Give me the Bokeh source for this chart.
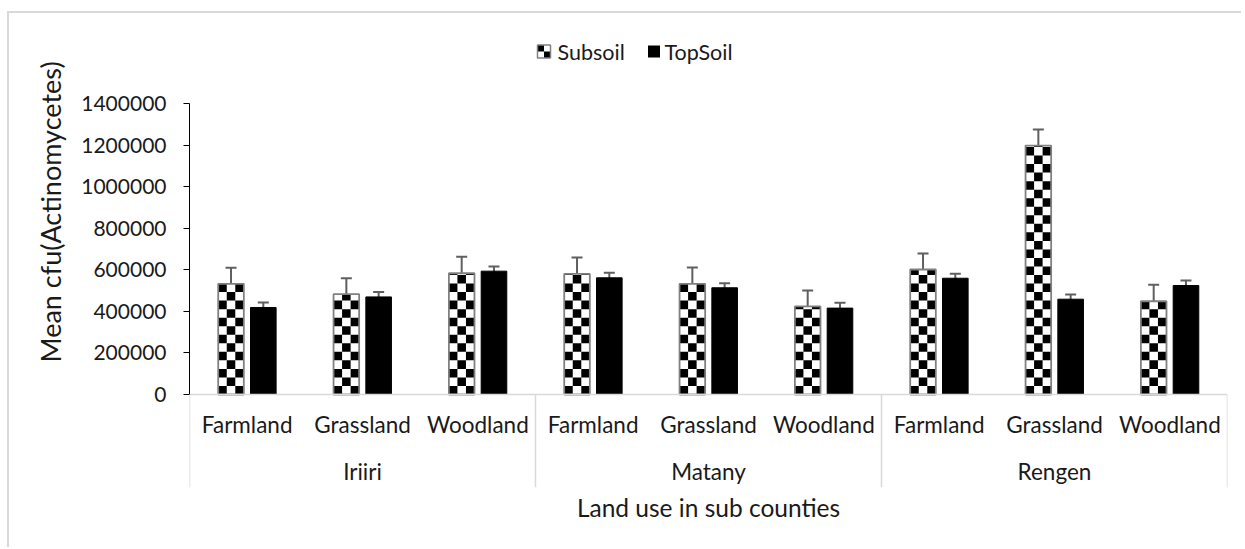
from bokeh.core.properties import value
from bokeh.embed import file_html
from bokeh.models import (BasicTickFormatter, ColumnDataSource, FactorRange, FixedTicker,
                          Span, TeeHead, Title, Whisker)
from bokeh.plotting import figure
from bokeh.resources import INLINE
from bokeh.transform import dodge

# ---- data -------------------------------------------------------------
counties = ["Iriiri", "Matany", "Rengen"]
land_uses = ["Farmland", "Grassland", "Woodland"]
series = ["Subsoil", "TopSoil"]

subsoil_mean = [533000, 483000, 584000, 581000, 533000, 424000, 602000, 1199000, 449000]
subsoil_err = [77000, 77000, 79000, 79000, 79000, 77000, 77000, 77000, 80000]
topsoil_mean = [419000, 470000, 594000, 562000, 514000, 416000, 560000, 459000, 525000]
topsoil_err = [24000, 24000, 23000, 24000, 22000, 26000, 22000, 22000, 24000]

y_ticks = [0, 200000, 400000, 600000, 800000, 1000000, 1200000, 1400000]

FONT = "Lato"
TEXT = "#1a1a1a"
ERR = "#5f5f5f"
EDGE = "#808080"
FRAME_GREY = "#d9d9d9"

# ---- geometry of the plotting frame (pixels) ----
W, H = 1245, 549
OFF_X, OFF_Y = 9, 13                 # chart-area border offset
SPARE_R = 2                          # keep the canvas inside the window
FRAME_L, FRAME_R = 189, 1227
FRAME_T, FRAME_B = 30, 487
AXIS_Y0 = 394                        # pixel row of y = 0
PX_PER_UNIT = (AXIS_Y0 - 103.3) / 1400000
y_bottom = -(FRAME_B - AXIS_Y0) / PX_PER_UNIT
y_top = (AXIS_Y0 - FRAME_T) / PX_PER_UNIT

factors = [(c, u) for c in counties for u in land_uses]
n_cat = len(factors)
CAT_PX = (FRAME_R - FRAME_L) / n_cat

dx = 0.14          # bar offset from the category centre
bw = 0.222         # bar width (category units)

src = ColumnDataSource(dict(
    x=factors,
    sub=subsoil_mean,
    sub_lo=[m - e for m, e in zip(subsoil_mean, subsoil_err)],
    sub_hi=[m + e for m, e in zip(subsoil_mean, subsoil_err)],
    top=topsoil_mean,
    top_lo=[m - e for m, e in zip(topsoil_mean, topsoil_err)],
    top_hi=[m + e for m, e in zip(topsoil_mean, topsoil_err)],
    sub_label=[u for _, u in factors],
))

# checkerboard cells filling each subsoil bar (3 columns, square cells)
ncol = 3
cell_w = bw / ncol
cell_h = cell_w * CAT_PX / PX_PER_UNIT
cells = dict(left=[], right=[], bottom=[], top=[])
for f, v in zip(factors, subsoil_mean):
    x0 = -dx - bw / 2
    r = 0
    while r * cell_h < v:
        for c in range(ncol):
            if (r + c) % 2 == 0:
                cells["left"].append((*f, x0 + c * cell_w))
                cells["right"].append((*f, x0 + (c + 1) * cell_w))
                cells["bottom"].append(r * cell_h)
                cells["top"].append(min((r + 1) * cell_h, v))
        r += 1
cell_src = ColumnDataSource(cells)

x_range = FactorRange(*factors, factor_padding=0, group_padding=0, range_padding=0)

p = figure(width=W - OFF_X - SPARE_R, height=H - OFF_Y, x_range=x_range,
           y_range=(y_bottom, y_top), output_backend="svg", toolbar_location=None,
           x_axis_location=None,
           min_border_left=FRAME_L - OFF_X, min_border_right=W - SPARE_R - FRAME_R,
           min_border_top=FRAME_T - OFF_Y, min_border_bottom=H - FRAME_B)
# light chart-area border along the top and left edges
p.styles = {"margin-left": f"{OFF_X - 2}px", "margin-top": f"{OFF_Y - 2}px",
            "border-left": f"2px solid {FRAME_GREY}", "border-top": f"2px solid {FRAME_GREY}"}
p.outline_line_color = None
p.xgrid.visible = False
p.ygrid.visible = False
p.background_fill_color = "white"
p.border_fill_color = "white"

# ---- y axis ----
ax = p.yaxis[0]
ax.ticker = FixedTicker(ticks=y_ticks, minor_ticks=[])
ax.bounds = (0, 1400000)
ax.formatter = BasicTickFormatter(use_scientific=False)
ax.axis_line_color = "black"
ax.axis_line_width = 1
ax.major_tick_line_color = "black"
ax.major_tick_out = 6
ax.major_tick_in = 0
ax.minor_tick_line_color = None
ax.major_label_standoff = 17
ax.major_label_text_font = FONT
ax.major_label_text_font_size = "21px"
ax.major_label_text_color = TEXT

# ---- bars ----
p.vbar(x=dodge("x", -dx, range=x_range), top="sub", bottom=0, width=bw, source=src,
       fill_color="white", line_color=None)
p.quad(left="left", right="right", bottom="bottom", top="top", source=cell_src,
       fill_color="black", line_color=None)
p.vbar(x=dodge("x", -dx, range=x_range), top="sub", bottom=0, width=bw, source=src,
       fill_color=None, line_color=EDGE, line_width=1.8)
p.vbar(x=dodge("x", dx, range=x_range), top="top", bottom=0, width=bw, source=src,
       fill_color="black", line_color="black", line_width=1)

# ---- error bars ----
for key, off in (("sub", -dx), ("top", dx)):
    w = Whisker(base=dodge("x", off, range=x_range), lower=f"{key}_lo", upper=f"{key}_hi",
                source=src, line_color=ERR, line_width=2,
                upper_head=TeeHead(size=11, line_color=ERR, line_width=2),
                lower_head=TeeHead(size=11, line_color=ERR, line_width=2))
    p.add_layout(w)

# ---- x axis line and category box ----
p.add_layout(Span(location=0, dimension="width", line_color=FRAME_GREY, line_width=1.5))
bounds = [0]
for _ in counties:
    bounds.append(bounds[-1] + len(land_uses))
p.segment(x0=bounds, x1=bounds, y0=[0] * len(bounds), y1=[y_bottom] * len(bounds),
          line_color=FRAME_GREY, line_width=1.5)

p.text(x="x", y=0, text="sub_label", source=src, y_offset=30,
       text_align="center", text_baseline="middle", text_font=value(FONT),
       text_font_size="22.5px", text_color=TEXT)

group_src = ColumnDataSource(dict(
    x=[(c, land_uses[len(land_uses) // 2]) for c in counties],
    name=counties,
))
p.text(x="x", y=0, text="name", source=group_src, y_offset=77,
       text_align="center", text_baseline="middle", text_font=value(FONT),
       text_font_size="22.5px", text_color=TEXT)

# ---- axis titles ----
p.add_layout(Title(text="Mean cfu(Actinomycetes)", align="left", offset=FRAME_B - 362,
                   text_font=FONT, text_font_size="27px", text_font_style="normal",
                   text_color=TEXT, standoff=24), "left")
p.add_layout(Title(text="Land use in sub counties", align="center",
                   text_font=FONT, text_font_size="24.5px", text_font_style="normal",
                   text_color=TEXT, standoff=6), "below")


# ---- legend (top strip of the frame) ----
def to_data(sx, sy):
    """Pixel position on the page -> (category units, value units)."""
    return (sx - FRAME_L) / CAT_PX, y_bottom + (FRAME_B - sy) / PX_PER_UNIT


ICON = 13
LEG_Y = 51
icon_left = [537, 647]
label_left = [557, 664]

cx, cy = zip(*(to_data(sx + ICON / 2, LEG_Y) for sx in icon_left))
# Subsoil key: white square with grey edge and a 2x2 checker
q = ICON / 2
qx, qy = zip(*(to_data(icon_left[0] + ox, LEG_Y + oy)
               for ox, oy in ((q / 2, -q / 2), (q + q / 2, q / 2))))
p.rect(x=[cx[0]], y=[cy[0]], width=ICON, height=ICON, width_units="screen",
       height_units="screen", fill_color="white", line_color=None)
p.rect(x=list(qx), y=list(qy), width=q, height=q, width_units="screen",
       height_units="screen", fill_color="black", line_color=None)
p.rect(x=[cx[0]], y=[cy[0]], width=ICON, height=ICON, width_units="screen",
       height_units="screen", fill_color=None, line_color=EDGE, line_width=1.5)
# TopSoil key: solid black square
p.rect(x=[cx[1]], y=[cy[1]], width=ICON - 1, height=ICON - 1, width_units="screen",
       height_units="screen", fill_color="black", line_color=None)

lx, ly = zip(*(to_data(sx, LEG_Y) for sx in label_left))
p.text(x=list(lx), y=list(ly), text=series, text_align="left", text_baseline="middle",
       text_font=value(FONT), text_font_size="21.5px", text_color=TEXT)

open("out.html", "w").write(file_html(p, INLINE))
